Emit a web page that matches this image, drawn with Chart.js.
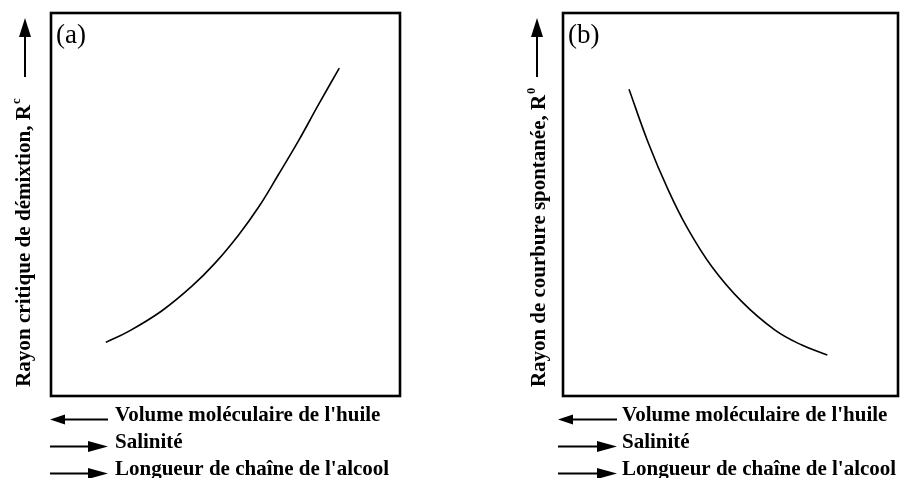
<!DOCTYPE html>
<html>
<head>
<meta charset="utf-8">
<script src="https://cdn.jsdelivr.net/npm/chart.js@4.4.0/dist/chart.umd.min.js"></script>
<style>
  html, body { margin: 0; padding: 0; background: #fff; }
  #wrap { position: relative; width: 900px; height: 478px; overflow: hidden; }
  canvas { position: absolute; top: 0; }
</style>
</head>
<body>
<div id="wrap">
  <canvas id="chart-a" width="450" height="478" style="left:0"></canvas>
  <canvas id="chart-b" width="450" height="478" style="left:450px"></canvas>
</div>
<script>
// curve (a): critical demixing radius, arbitrary units 0..100
const xA = [15.7, 22.1, 31.7, 40.3, 47.0, 53.7, 59.4, 65.1, 70.9, 76.6, 82.6];
const yA = [14.0, 16.8, 22.2, 28.6, 34.7, 42.0, 49.2, 57.7, 66.6, 76.0, 85.6];

// curve (b): spontaneous curvature radius
const xB = [19.7, 25.5, 31.4, 36.9, 44.4, 53.3, 63.3, 71.3, 78.9];
const yB = [80.1, 66.0, 53.8, 44.2, 33.8, 24.7, 17.2, 13.3, 10.7];

const panelLabels = ["(a)", "(b)"];
const yTitles = ["Rayon critique de démixtion, R", "Rayon de courbure spontanée, R"];
const ySups = ["c", "0"];
const bottomLines = ["Volume moléculaire de l'huile", "Salinité", "Longueur de chaîne de l'alcool"];
const bottomDirs = [-1, 1, 1];   // arrow direction: left / right

const SERIF = "'Liberation Serif', 'Times New Roman', serif";

function arrow(ctx, x1, y1, x2, y2, headLen, headHalf) {
  const ang = Math.atan2(y2 - y1, x2 - x1);
  const bx = x2 - headLen * Math.cos(ang), by = y2 - headLen * Math.sin(ang);
  ctx.beginPath();
  ctx.moveTo(x1, y1);
  ctx.lineTo(bx, by);
  ctx.stroke();
  ctx.beginPath();
  ctx.moveTo(x2, y2);
  ctx.lineTo(bx + headHalf * Math.sin(ang), by - headHalf * Math.cos(ang));
  ctx.lineTo(bx - headHalf * Math.sin(ang), by + headHalf * Math.cos(ang));
  ctx.closePath();
  ctx.fill();
}

const decor = {
  id: "decor",
  afterDraw(chart, args, o) {
    const { ctx, chartArea: a } = chart;
    ctx.save();
    ctx.strokeStyle = "#000";
    ctx.fillStyle = "#000";

    // frame
    ctx.lineWidth = 2.6;
    ctx.strokeRect(a.left, a.top, a.right - a.left, a.bottom - a.top);

    // panel label
    ctx.font = "27px " + SERIF;
    ctx.textBaseline = "alphabetic";
    ctx.textAlign = "left";
    ctx.fillText(panelLabels[o.idx], a.left + 5, a.top + 30);

    // rotated y title + superscript
    ctx.save();
    ctx.translate(a.left + o.titleX, a.bottom - 9);
    ctx.rotate(-Math.PI / 2);
    ctx.font = "bold " + o.titleSize + "px " + SERIF;
    const t = yTitles[o.idx];
    const w = ctx.measureText(t).width;
    ctx.scale(o.titleWidth / w, 1);
    ctx.fillText(t, 0, 0);
    ctx.font = "bold " + Math.round(o.titleSize * 0.62) + "px " + SERIF;
    ctx.fillText(ySups[o.idx], w + 1, -o.titleSize * 0.5);
    ctx.restore();

    // vertical arrow
    ctx.lineWidth = 2;
    arrow(ctx, a.left + o.arrowX, a.top + 64, a.left + o.arrowX, a.top + 5, 19, 6);

    // bottom direction lines
    ctx.font = "bold " + o.lineSize + "px " + SERIF;
    bottomLines.forEach((txt, i) => {
      const yb = a.bottom + 25 + i * 27;
      const x0 = a.left + o.arrowStart, x1 = x0 + o.arrowLen;
      ctx.lineWidth = 2;
      if (bottomDirs[i] < 0) arrow(ctx, x1, yb - 1.5, x0, yb - 1.5, 15, 5);
      else arrow(ctx, x0, yb - 1.5, x1, yb - 1.5, 20, 5.5);
      ctx.fillText(txt, a.left + o.textX, yb);
    });
    ctx.restore();
  }
};

function makeChart(id, xs, ys, pad, deco) {
  new Chart(document.getElementById(id), {
    type: "line",
    data: {
      datasets: [{
        data: xs.map((x, i) => ({ x: x, y: ys[i] })),
        borderColor: "#000",
        borderWidth: 1.6,
        pointRadius: 0,
        tension: 0.4,
        fill: false,
      }],
    },
    options: {
      responsive: false,
      animation: false,
      layout: { padding: pad },
      scales: {
        x: { type: "linear", min: 0, max: 100, display: false },
        y: { min: 0, max: 100, display: false },
      },
      plugins: {
        legend: { display: false },
        tooltip: { enabled: false },
        decor: deco,
      },
    },
    plugins: [decor],
  });
}

makeChart("chart-a", xA, yA, { left: 51, top: 13, right: 50, bottom: 82 },
  { idx: 0, titleX: -21, titleSize: 20, titleWidth: 282, arrowX: -26,
    arrowStart: -1, arrowLen: 58, textX: 64, lineSize: 21 });
makeChart("chart-b", xB, yB, { left: 113, top: 13, right: 2, bottom: 82 },
  { idx: 1, titleX: -18, titleSize: 20, titleWidth: 292, arrowX: -26,
    arrowStart: -5, arrowLen: 59, textX: 59, lineSize: 21 });
</script>
</body>
</html>
